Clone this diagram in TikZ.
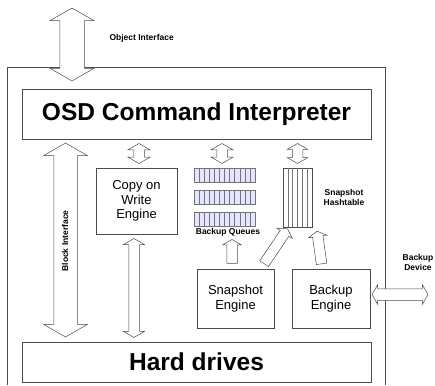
\documentclass[tikz,border=0pt]{standalone}
\usepackage{fontspec}
\setmainfont{Liberation Sans}
\usetikzlibrary{shapes.arrows}

\begin{document}
\begin{tikzpicture}[x=1pt,y=-1pt,
    box/.style={draw=black!70,line width=.6pt,inner sep=0pt,align=center,
        font={\fontsize{13}{14.5}\selectfont}},
    bigbox/.style={draw=black!70,line width=.6pt,inner sep=0pt,
        font={\fontsize{24.5}{26}\selectfont\bfseries}},
    label/.style={font={\fontsize{8.5}{10}\selectfont\bfseries},align=center},
    darrow/.style={double arrow,draw=black!70,fill=white,line width=.5pt,
        inner xsep=0pt,double arrow tip angle=120,minimum width=0pt},
    sarrow/.style={single arrow,draw=black!70,fill=white,line width=.5pt,
        inner xsep=0pt,single arrow tip angle=120,minimum width=0pt},
    cell/.style={draw=black!55,line width=.4pt},
    ]
    % page
    \useasboundingbox (0,0) rectangle (435,385);
    % OSD frame
    \draw[black!70,line width=.6pt] (7,385) -- (7,67) -- (385,67) -- (385,385);

    % Object interface
    \node[darrow,rotate=90,inner ysep=12pt,double arrow head extend=9.5pt,
          minimum height=73pt] (objif) at (72,44.5) {};
    \node[label,anchor=west] (objlbl) at (106,38) {Object Interface};

    % Command interpreter and disks
    \node[bigbox,minimum width=349pt,minimum height=50pt] (osd) at (196.5,114)
        {OSD Command Interpreter};
    \node[bigbox,minimum width=349pt,minimum height=40pt] (drives) at (196.5,362)
        {Hard drives};

    % Block interface
    \node[darrow,rotate=90,inner ysep=11.5pt,double arrow head extend=10pt,
          minimum height=194pt] (blockif) at (65.5,240) {};
    \node[label,rotate=90] (blocklbl) at (65,241) {Block Interface};

    % Engines
    \node[box,minimum width=81pt,minimum height=66pt] (cow) at (136.5,201)
        {Copy on\\Write\\Engine};
    \node[box,minimum width=77pt,minimum height=59pt] (snap) at (235.5,298.5)
        {Snapshot\\Engine};
    \node[box,minimum width=78pt,minimum height=59pt] (bkeng) at (331,298.5)
        {Backup\\Engine};

    % Backup queues
    \foreach \i in {0,1,2}{
        \fill[blue!10] (194,168+22*\i) rectangle (255,182+22*\i);
        \foreach \j in {1,...,11}
            \draw[cell] (194+\j*61/12,168+22*\i) -- (194+\j*61/12,182+22*\i);
        \draw[cell] (194,168+22*\i) rectangle (255,182+22*\i);
    }
    \node[label] (qlbl) at (228,232) {Backup Queues};

    % Snapshot hashtable
    \node[draw=black!70,line width=.6pt,minimum width=29pt,minimum height=59pt,
          inner sep=0pt] (hash) at (297.5,197.5) {};
    \foreach \j in {1,...,5}
        \draw[cell] (283+\j*29/6,168) -- (283+\j*29/6,227);
    \node[label] (hlbl) at (344,197) {Snapshot\\Hashtable};

    % Interpreter to engines
    \node[darrow,rotate=90,inner ysep=5pt,double arrow head extend=6pt,
          minimum height=20pt] (osdcow) at (139,153.5) {};
    \node[darrow,rotate=90,inner ysep=5pt,double arrow head extend=6pt,
          minimum height=20pt] (osdq) at (222,153.5) {};
    \node[darrow,rotate=90,inner ysep=5pt,double arrow head extend=5pt,
          minimum height=20pt] (osdhash) at (297.5,153.5) {};

    % Copy on write to disks
    \node[darrow,rotate=90,inner ysep=5pt,double arrow head extend=5.5pt,
          minimum height=99pt] (cowdisk) at (134,288) {};

    % Engines to queues and hashtable
    \node[sarrow,rotate=90,inner ysep=5pt,single arrow head extend=4pt,
          minimum height=24pt] (snapq) at (232,253) {};
    \node[sarrow,rotate=56,inner ysep=5pt,single arrow head extend=4pt,
          minimum height=42pt] (snaphash) at (275,247.5) {};
    \node[sarrow,rotate=98,inner ysep=5pt,single arrow head extend=4pt,
          minimum height=33pt] (bkhash) at (319.5,249) {};

    % Backup device
    \node[darrow,inner ysep=5.5pt,double arrow head extend=4pt,
          minimum height=56pt] (bkdev) at (400,294.5) {};
    \node[label] (devlbl) at (418,262) {Backup\\Device};
\end{tikzpicture}
\end{document}
